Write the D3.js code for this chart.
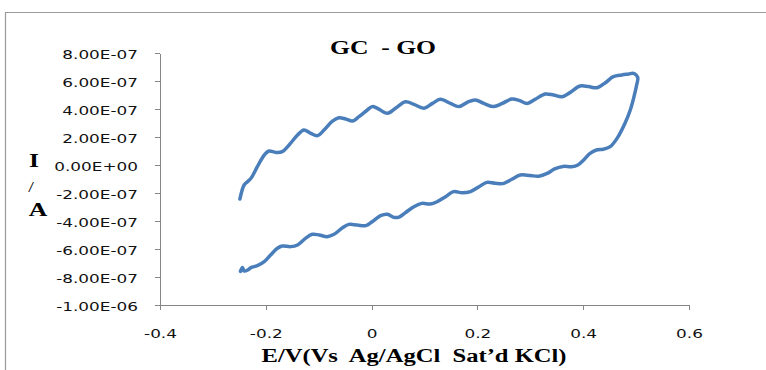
<!DOCTYPE html>
<html>
<head>
<meta charset="utf-8">
<script src="https://cdn.jsdelivr.net/npm/d3@7"></script>
<style>
  body { margin: 0; background: #fff; }
  .axis path, .axis line { stroke: #868686; shape-rendering: crispEdges; }
  .axis text { font-family: "DejaVu Sans", sans-serif; font-size: 12.5px; fill: #111; }
  text { white-space: pre; }
</style>
</head>
<body>
<div id="chart"></div>
<script>
// current values are in units of 1e-7 A
var unit = 1e-7;

// anodic sweep (-0.25 V -> 0.5 V)
var forwardE = [-0.249, -0.241, -0.2345, -0.228, -0.216, -0.203, -0.194, -0.181, -0.169, -0.156,
    -0.140, -0.128, -0.115, -0.102, -0.090, -0.074, -0.062, -0.049, -0.036, -0.024,
    -0.008, 0.001, 0.011, 0.030, 0.045, 0.064, 0.080, 0.099, 0.115, 0.130,
    0.149, 0.165, 0.181, 0.196, 0.212, 0.231, 0.247, 0.265, 0.280, 0.294,
    0.309, 0.328, 0.344, 0.360, 0.375, 0.394, 0.410, 0.426, 0.442, 0.457,
    0.473, 0.486, 0.495, 0.503];
var forwardI = [-2.43, -1.43, -1.19, -0.95, -0.12, 0.71, 1.0, 0.9, 0.95, 1.43,
    2.14, 2.5, 2.26, 2.1, 2.5, 3.14, 3.38, 3.29, 3.14, 3.45,
    3.93, 4.17, 4.05, 3.69, 4.05, 4.52, 4.33, 4.05, 4.4, 4.69,
    4.4, 4.17, 4.48, 4.64, 4.4, 4.17, 4.4, 4.71, 4.6, 4.4,
    4.69, 5.07, 5.0, 4.88, 5.17, 5.64, 5.6, 5.52, 5.88, 6.31,
    6.43, 6.5, 6.55, 6.26];

// cathodic sweep (0.5 V -> -0.25 V)
var reverseE = [0.501, 0.496, 0.489, 0.479, 0.464, 0.451, 0.438, 0.425, 0.413, 0.401,
    0.390, 0.378, 0.362, 0.346, 0.332, 0.316, 0.300, 0.281, 0.265, 0.250,
    0.234, 0.218, 0.203, 0.187, 0.171, 0.155, 0.140, 0.124, 0.111, 0.095,
    0.080, 0.064, 0.052, 0.042, 0.030, 0.017, 0.001, -0.011, -0.027, -0.043,
    -0.055, -0.071, -0.084, -0.099, -0.112, -0.125, -0.140, -0.153, -0.169, -0.178,
    -0.191, -0.203, -0.216, -0.228, -0.234, -0.241, -0.244, -0.248];
var reverseI = [5.71, 4.88, 3.93, 2.98, 1.9, 1.31, 1.12, 1.07, 0.83, 0.36,
    0.0, -0.12, -0.1, -0.28, -0.6, -0.8, -0.75, -0.71, -1.02, -1.31,
    -1.31, -1.24, -1.55, -1.9, -1.98, -1.9, -2.26, -2.62, -2.79, -2.74,
    -2.98, -3.40, -3.72, -3.74, -3.52, -3.62, -4.05, -4.33, -4.29, -4.24,
    -4.48, -4.95, -5.12, -5.0, -4.95, -5.24, -5.71, -5.83, -5.79, -5.95,
    -6.43, -6.9, -7.19, -7.33, -7.5, -7.57, -7.33, -7.6];

var xTicks = [-0.4, -0.2, 0, 0.2, 0.4, 0.6];
var xTickLabels = ["-0.4", "-0.2", "0", "0.2", "0.4", "0.6"];
var yTicks = [8e-7, 6e-7, 4e-7, 2e-7, 0, -2e-7, -4e-7, -6e-7, -8e-7, -1e-6];
var yTickLabels = ["8.00E-07", "6.00E-07", "4.00E-07", "2.00E-07", "0.00E+00",
    "-2.00E-07", "-4.00E-07", "-6.00E-07", "-8.00E-07", "-1.00E-06"];

function init()
{
    var w = 766;
    var h = 370;
    var stretch = 1.35; // the source picture is stretched sideways

    var svg = d3.select("#chart")
        .append("svg")
        .attr("width", w)
        .attr("height", h);

    // chart frame (runs off the picture right and bottom)
    svg.append("path")
        .attr("d", "M5.5,370 V12.5 H766")
        .attr("fill", "none")
        .attr("stroke", "#9a9a9a")
        .attr("stroke-width", 1.2);

    var xScale = d3.scaleLinear()
        .domain([-0.4, 0.6])
        .range([160, 689]);

    var yScale = d3.scaleLinear()
        .domain([-1e-6, 8e-7])
        .range([305, 53]);

    var xAxis = d3.axisBottom(xScale)
        .tickValues(xTicks)
        .tickSize(5)
        .tickSizeOuter(0)
        .tickFormat(function(d, i) { return xTickLabels[i]; });

    var yAxis = d3.axisLeft(yScale)
        .tickValues(yTicks)
        .tickSize(5)
        .tickSizeOuter(0)
        .tickFormat(function(d, i) { return yTickLabels[i]; });

    var gx = svg.append("g")
        .attr("class", "axis")
        .attr("transform", "translate(0,305)")
        .call(xAxis);
    gx.selectAll(".tick text")
        .attr("y", null)
        .attr("dy", null)
        .attr("transform", "translate(0,33) scale(" + stretch + ",1)");

    var gy = svg.append("g")
        .attr("class", "axis")
        .attr("transform", "translate(160,0)")
        .call(yAxis);
    gy.selectAll(".tick text")
        .attr("x", null)
        .attr("dy", null)
        .attr("dominant-baseline", "central")
        .attr("transform", "translate(-22,1) scale(" + stretch + ",1)");

    // build point list from the two sweeps
    var points = [];
    forwardE.forEach(function(e, i) { points.push({ e: e, i: forwardI[i] * unit }); });
    reverseE.forEach(function(e, i) { points.push({ e: e, i: reverseI[i] * unit }); });

    var line = d3.line()
        .x(function(d) { return xScale(d.e); })
        .y(function(d) { return yScale(d.i); })
        .curve(d3.curveCatmullRom.alpha(0.5));

    svg.append("path")
        .datum(points)
        .attr("d", line)
        .attr("fill", "none")
        .attr("stroke", "#4a7ebb")
        .attr("stroke-width", 3.5)
        .attr("stroke-linejoin", "round")
        .attr("stroke-linecap", "round");

    // texts
    function label(txt, x, y, size, weight) {
        svg.append("text")
            .attr("transform", "translate(" + x + "," + y + ") scale(" + stretch + ",1)")
            .attr("text-anchor", "middle")
            .attr("xml:space", "preserve")
            .style("font-family", "'Liberation Serif', 'Times New Roman', serif")
            .style("font-size", size + "px")
            .style("font-weight", weight)
            .style("fill", "#000")
            .text(txt);
    }

    label("GC  - GO", 383, 54, 19, "bold");
    label("E/V(Vs  Ag/AgCl  Sat\u2019d KCl)", 414, 362, 18.2, "bold");
    label("I", 34, 167, 19, "bold");
    label("/", 31, 192, 15, "normal");
    label("A", 38, 216, 19, "bold");
}

window.onload = init;
</script>
</body>
</html>
